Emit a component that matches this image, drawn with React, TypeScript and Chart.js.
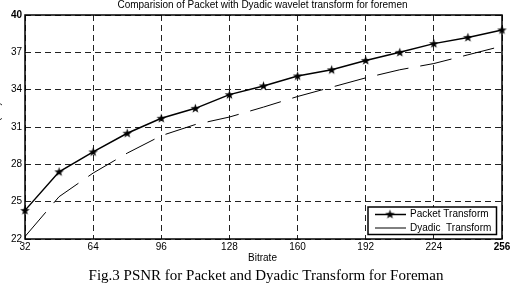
import React, { useEffect, useRef } from "react";
import { Chart, registerables } from "chart.js";

Chart.register(...registerables);

const bitrate = [32, 48, 64, 80, 96, 112, 128, 144, 160, 176, 192, 208, 224, 240, 256];
const packetPSNR = [24.3, 27.4, 29.0, 30.5, 31.7, 32.5, 33.6, 34.3, 35.1, 35.6, 36.35, 37.0, 37.7, 38.2, 38.8];
const dyadicPSNR = [22.2, 25.4, 27.3, 28.9, 30.3, 31.2, 31.8, 32.6, 33.45, 34.2, 34.95, 35.6, 36.1, 36.8, 37.5];
const xTicks = [32, 64, 96, 128, 160, 192, 224, 256];
const yTicks = [22, 25, 28, 31, 34, 37, 40];

const titleText = "Comparision of Packet with Dyadic wavelet transform for foremen";
const xTitle = "Bitrate";
const yTitle = "PSNR (dB)";
const caption = "Fig.3 PSNR for Packet and Dyadic Transform for Foreman";
const legendLabels = ["Packet Transform", "Dyadic  Transform"];

const SANS = "'Liberation Sans', Arial, Helvetica, sans-serif";
const SERIF = "'Liberation Serif', 'Times New Roman', serif";

function makeStar(): HTMLCanvasElement {
  const c = document.createElement("canvas");
  c.width = 11;
  c.height = 11;
  const g = c.getContext("2d")!;
  g.fillStyle = "#000";
  g.beginPath();
  const cx = 5.5, cy = 5.8, ro = 5, ri = 2;
  for (let i = 0; i < 10; i++) {
    const r = i % 2 === 0 ? ro : ri;
    const a = -Math.PI / 2 + (i * Math.PI) / 5;
    const px = cx + r * Math.cos(a);
    const py = cy + r * Math.sin(a);
    if (i === 0) g.moveTo(px, py);
    else g.lineTo(px, py);
  }
  g.closePath();
  g.fill();
  return c;
}

export default function App() {
  const ref = useRef<HTMLCanvasElement | null>(null);

  useEffect(() => {
    if (!ref.current) return;
    const star = makeStar();

    const decor = {
      id: "decor",
      afterDatasetsDraw(chart: any) {
        const { ctx, chartArea: a } = chart;
        ctx.save();
        ctx.strokeStyle = "#000";
        ctx.lineWidth = 1.5;
        ctx.setLineDash([]);
        ctx.strokeRect(a.left, a.top, a.right - a.left, a.bottom - a.top);
        ctx.restore();
      },
      afterDraw(chart: any) {
        const { ctx, chartArea: a } = chart;
        const cxp = (a.left + a.right) / 2;
        ctx.save();
        ctx.fillStyle = "#000";
        ctx.textAlign = "center";
        ctx.textBaseline = "middle";
        ctx.font = `10px ${SANS}`;
        ctx.fillText(titleText, cxp - 1, 5.5);
        ctx.fillText(xTitle, cxp - 1, 258);
        ctx.save();
        ctx.translate(-3, (a.top + a.bottom) / 2);
        ctx.rotate(-Math.PI / 2);
        ctx.fillText(yTitle, 0, 0);
        ctx.restore();
        ctx.font = `15px ${SERIF}`;
        ctx.fillText(caption, 266, 276);

        // legend
        const bx = 368, by = 207, bw = 128.5, bh = 27.5;
        ctx.fillStyle = "#fff";
        ctx.fillRect(bx, by, bw, bh);
        ctx.strokeStyle = "#000";
        ctx.lineWidth = 1.5;
        ctx.strokeRect(bx, by, bw, bh);
        ctx.lineWidth = 1.5;
        ctx.beginPath();
        ctx.moveTo(375, 214.5);
        ctx.lineTo(406, 214.5);
        ctx.stroke();
        ctx.drawImage(star, 390 - 5.5, 214.5 - 5.8);
        ctx.lineWidth = 1;
        ctx.beginPath();
        ctx.moveTo(375, 228);
        ctx.lineTo(406, 228);
        ctx.stroke();
        ctx.fillStyle = "#000";
        ctx.textAlign = "left";
        ctx.font = `10px ${SANS}`;
        ctx.fillText(legendLabels[0], 410, 214.5);
        ctx.fillText(legendLabels[1], 410, 228);
        ctx.restore();
      },
    };

    const chart = new Chart(ref.current, {
      type: "line",
      data: {
        datasets: [
          {
            label: legendLabels[0],
            data: bitrate.map((x, i) => ({ x, y: packetPSNR[i] })),
            borderColor: "#000",
            backgroundColor: "#000",
            borderWidth: 1.5,
            pointStyle: star as any,
            pointRadius: 5,
            tension: 0,
            clip: false as any,
          },
          {
            label: legendLabels[1],
            data: bitrate.map((x, i) => ({ x, y: dyadicPSNR[i] })),
            borderColor: "#000",
            borderWidth: 1,
            borderDash: [32, 12],
            pointRadius: 0,
            tension: 0,
          },
        ],
      },
      options: {
        animation: false,
        responsive: false,
        events: [],
        layout: { padding: { top: 15, right: 8, left: 0, bottom: 0 } },
        plugins: {
          legend: { display: false },
          title: { display: false },
          tooltip: { enabled: false },
        },
        scales: {
          x: {
            type: "linear",
            min: 32,
            max: 256,
            afterBuildTicks: (s: any) => {
              s.ticks = xTicks.map((v) => ({ value: v }));
            },
            afterFit: (s: any) => {
              s.height = 45;
              s.paddingLeft = 0;
              s.paddingRight = 0;
            },
            grid: { color: "#222", lineWidth: 1, drawTicks: false },
            border: { display: false, dash: [6, 4] },
            ticks: {
              color: "#000",
              padding: 2,
              maxRotation: 0,
              autoSkip: false,
              font: (c: any) => ({
                family: SANS,
                size: 10,
                weight: c.tick && c.tick.value === 256 ? "bold" : "normal",
              }),
            },
          },
          y: {
            min: 22,
            max: 40,
            afterBuildTicks: (s: any) => {
              s.ticks = yTicks.map((v) => ({ value: v }));
            },
            afterFit: (s: any) => {
              s.width = 25;
              s.paddingTop = 0;
              s.paddingBottom = 0;
            },
            grid: { color: "#222", lineWidth: 1, drawTicks: false },
            border: { display: false, dash: [6, 4] },
            ticks: {
              color: "#000",
              padding: 3,
              autoSkip: false,
              font: (c: any) => ({
                family: SANS,
                size: 10,
                weight: c.tick && c.tick.value === 40 ? "bold" : "normal",
              }),
            },
          },
        },
      },
      plugins: [decor],
    });
    return () => chart.destroy();
  }, []);

  return (
    <div style={{ position: "fixed", left: 0, top: 0, width: 510, height: 284, background: "#fff" }}>
      <canvas ref={ref} width={510} height={284} style={{ width: 510, height: 284, display: "block" }} />
    </div>
  );
}
